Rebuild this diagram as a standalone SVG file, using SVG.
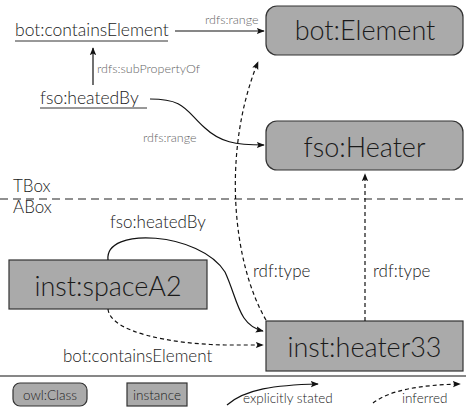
<svg xmlns="http://www.w3.org/2000/svg" width="466" height="410" viewBox="0 0 466 410">
  <style>
    text { font-family: "Lato", "DejaVu Sans", sans-serif; font-weight: 300; fill: #1a1a1a; }
    .cls { fill: #aaaaaa; stroke: #333333; stroke-width: 1.2; }
    .inst { fill: #aaaaaa; stroke: #333333; stroke-width: 1.2; }
    .big { font-size: 27px; }
    .prop { font-size: 17.5px; }
    .lbl { font-size: 17px; }
    .small { font-size: 12.5px; fill: #666666; }
    .leg { font-size: 13.5px; }
    .solid { fill: none; stroke: #111111; stroke-width: 1.2; }
    .dash { fill: none; stroke: #111111; stroke-width: 1.2; stroke-dasharray: 4 3; }
    .sep { fill: none; stroke: #222222; stroke-width: 1.2; stroke-dasharray: 8 5; }
  </style>
  <defs>
    <marker id="arrow" viewBox="0 0 10 10" refX="9" refY="5" markerWidth="8" markerHeight="8" orient="auto" markerUnits="userSpaceOnUse">
      <path d="M0,1 L10,5 L0,9 L2,5 Z" fill="#111111"/>
    </marker>
  </defs>

  <!-- TBox / ABox separator and legend rule -->
  <line class="sep" x1="0" y1="199" x2="466" y2="199"/>
  <line x1="0" y1="376" x2="466" y2="376" stroke="#111111" stroke-width="1.2"/>
  <text class="lbl" x="13" y="192">TBox</text>
  <text class="lbl" x="13" y="213">ABox</text>

  <!-- classes -->
  <g id="bot-element">
    <rect class="cls" x="266" y="6" width="197" height="49" rx="11"/>
    <text class="big" x="365" y="40" text-anchor="middle">bot:Element</text>
  </g>
  <g id="fso-heater">
    <rect class="cls" x="266" y="121" width="197" height="49" rx="11"/>
    <text class="big" x="364.5" y="157" text-anchor="middle">fso:Heater</text>
  </g>

  <!-- properties -->
  <g id="bot-containsElement">
    <text class="prop" x="15" y="36">bot:containsElement</text>
    <line x1="15" y1="41" x2="168" y2="41" stroke="#333333" stroke-width="1"/>
  </g>
  <g id="fso-heatedBy">
    <text class="prop" x="40" y="104">fso:heatedBy</text>
    <line x1="40" y1="108" x2="147" y2="108" stroke="#333333" stroke-width="1"/>
  </g>

  <!-- individuals -->
  <g id="inst-spaceA2">
    <rect class="inst" x="9" y="260" width="198" height="49"/>
    <text class="big" x="108" y="296" text-anchor="middle">inst:spaceA2</text>
  </g>
  <g id="inst-heater33">
    <rect class="inst" x="266" y="321" width="197" height="50"/>
    <text class="big" x="364.5" y="357" text-anchor="middle">inst:heater33</text>
  </g>

  <!-- connectors -->
  <g id="connectors">
    <path class="solid" d="M175,31 L264,31" marker-end="url(#arrow)"/>
    <text class="small" x="205" y="24">rdfs:range</text>

    <path class="solid" d="M93,85 L93,48" marker-end="url(#arrow)"/>
    <text class="small" x="97" y="73">rdfs:subPropertyOf</text>

    <path class="solid" d="M150,99 C185,99 185,110 205,128 C220,142 235,145 264,145" marker-end="url(#arrow)"/>
    <text class="small" x="143" y="142">rdfs:range</text>

    <path class="dash" d="M266,320 C232,262 222,150 258,62" marker-end="url(#arrow)"/>
    <text class="lbl" x="253" y="277">rdf:type</text>

    <path class="dash" d="M365,321 L365,174" marker-end="url(#arrow)"/>
    <text class="lbl" x="373" y="277">rdf:type</text>

    <path class="solid" d="M108,260 C104,226 200,232 225,272 C238,300 238,325 263,331" marker-end="url(#arrow)"/>
    <text class="lbl" x="110" y="228">fso:heatedBy</text>

    <path class="dash" d="M108,309 C110,332 170,344 225,345 L263,345" marker-end="url(#arrow)"/>
    <text class="lbl" x="63" y="362">bot:containsElement</text>
  </g>

  <!-- legend -->
  <g id="legend">
    <rect class="cls" x="13" y="383" width="74" height="23" rx="7"/>
    <text class="leg" x="50" y="400" text-anchor="middle">owl:Class</text>
    <rect class="inst" x="127" y="383" width="60" height="23"/>
    <text class="leg" x="157" y="400" text-anchor="middle">instance</text>
    <path class="solid" d="M227,405 C245,389 275,385 318,384" marker-end="url(#arrow)"/>
    <text class="leg" x="243" y="403">explicitly stated</text>
    <path class="dash" d="M373,403 C390,390 420,385 460,384" marker-end="url(#arrow)"/>
    <text class="leg" x="402" y="403">inferred</text>
  </g>
</svg>
